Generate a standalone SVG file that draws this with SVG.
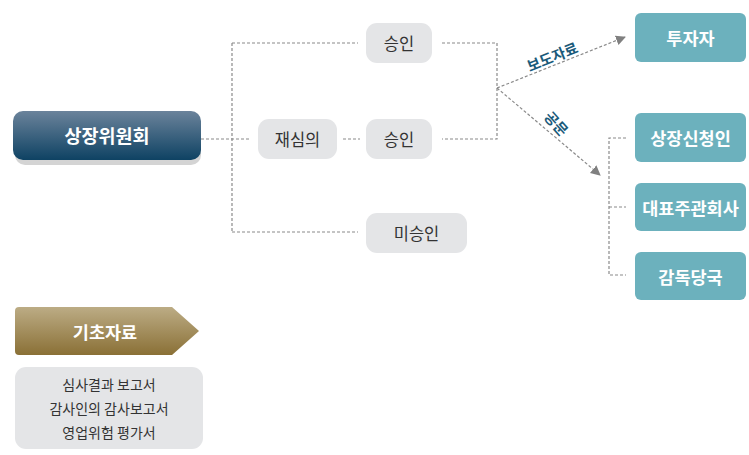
<svg xmlns="http://www.w3.org/2000/svg" width="749" height="455" viewBox="0 0 749 455">
<defs>
<linearGradient id="gBlue" x1="0" y1="0" x2="0" y2="1"><stop offset="0" stop-color="#6b839b"/><stop offset="1" stop-color="#0e4263"/></linearGradient>
<linearGradient id="gGold" x1="0" y1="0" x2="0" y2="1"><stop offset="0" stop-color="#bcac85"/><stop offset="1" stop-color="#8a7036"/></linearGradient>
<marker id="ah" viewBox="0 0 10 10" refX="9" refY="5" markerWidth="10" markerHeight="10" markerUnits="userSpaceOnUse" orient="auto"><path d="M0,0 L10,5 L0,10 z" fill="#808080"/></marker>
<style>
text{font-family:"Noto Sans CJK KR","Noto Sans",sans-serif;text-anchor:middle;dominant-baseline:central}
.gray{fill:#e4e5e7}
.gt{font-size:16.5px;fill:#333}
.teal{fill:#6cb1bd}
.wt{font-size:17.5px;font-weight:bold;fill:#fff}
.dash{fill:none;stroke:#8a8a8a;stroke-width:1.2;stroke-dasharray:3 2}
.lbl{font-size:14.5px;font-weight:bold;fill:#1a5a7a}
.st{font-size:14px;fill:#333}
</style>
</defs>
<rect width="749" height="455" fill="#fff"/>
<g id="connectors">
<path class="dash" d="M201,139 H250"/>
<path class="dash" d="M232,43 V232"/>
<path class="dash" d="M232,43 H358"/>
<path class="dash" d="M232,232 H358"/>
<path class="dash" d="M343,139 H360"/>
<path class="dash" d="M442,43 H497 V139 H442"/>
<path class="dash" d="M497,88 L625,37" marker-end="url(#ah)"/>
<path class="dash" d="M497,88 L600,175" marker-end="url(#ah)"/>
<path class="dash" d="M626,138 H609 V275 H626 M609,207 H626"/>
</g>
<g id="n-committee">
<rect x="15" y="116" width="186" height="49" rx="10" fill="#d4d4d4"/>
<rect x="13" y="111" width="188" height="49" rx="10" fill="url(#gBlue)"/>
<text x="107" y="135" class="wt" style="font-size:18.5px">상장위원회</text>
</g>
<g id="n-reexam"><rect class="gray" x="258" y="119" width="79" height="40" rx="11"/><text class="gt" x="297.5" y="139">재심의</text></g>
<g id="n-approve1"><rect class="gray" x="366" y="23" width="66" height="40" rx="11"/><text class="gt" x="399" y="43">승인</text></g>
<g id="n-approve2"><rect class="gray" x="366" y="119" width="66" height="40" rx="11"/><text class="gt" x="399" y="139">승인</text></g>
<g id="n-reject"><rect class="gray" x="366" y="213" width="101" height="40" rx="11"/><text class="gt" x="416.5" y="233">미승인</text></g>
<g id="n-investor"><rect class="teal" x="635" y="13" width="111" height="49" rx="6"/><text class="wt" x="690.5" y="37.5">투자자</text></g>
<g id="n-applicant"><rect class="teal" x="635" y="113" width="111" height="49" rx="6"/><text class="wt" x="690.5" y="137.5">상장신청인</text></g>
<g id="n-underwriter"><rect class="teal" x="635" y="183" width="111" height="48" rx="6"/><text class="wt" x="690.5" y="207">대표주관회사</text></g>
<g id="n-authority"><rect class="teal" x="635" y="252" width="111" height="48" rx="6"/><text class="wt" x="690.5" y="276">감독당국</text></g>
<g id="labels">
<text class="lbl" transform="translate(552,56) rotate(-22)">보도자료</text>
<text class="lbl" transform="translate(557,123) rotate(48)">공문</text>
</g>
<g id="n-basic">
<path d="M15,311 Q15,307 19,307 H172 L199,331 L172,355 H19 Q15,355 15,351 Z" fill="url(#gGold)"/>
<text class="wt" x="105" y="331">기초자료</text>
</g>
<g id="n-docs">
<rect class="gray" x="15" y="367" width="188" height="82" rx="11"/>
<text class="st" x="109" y="384">심사결과 보고서</text>
<text class="st" x="109" y="408">감사인의 감사보고서</text>
<text class="st" x="109" y="432">영업위험 평가서</text>
</g>
</svg>
